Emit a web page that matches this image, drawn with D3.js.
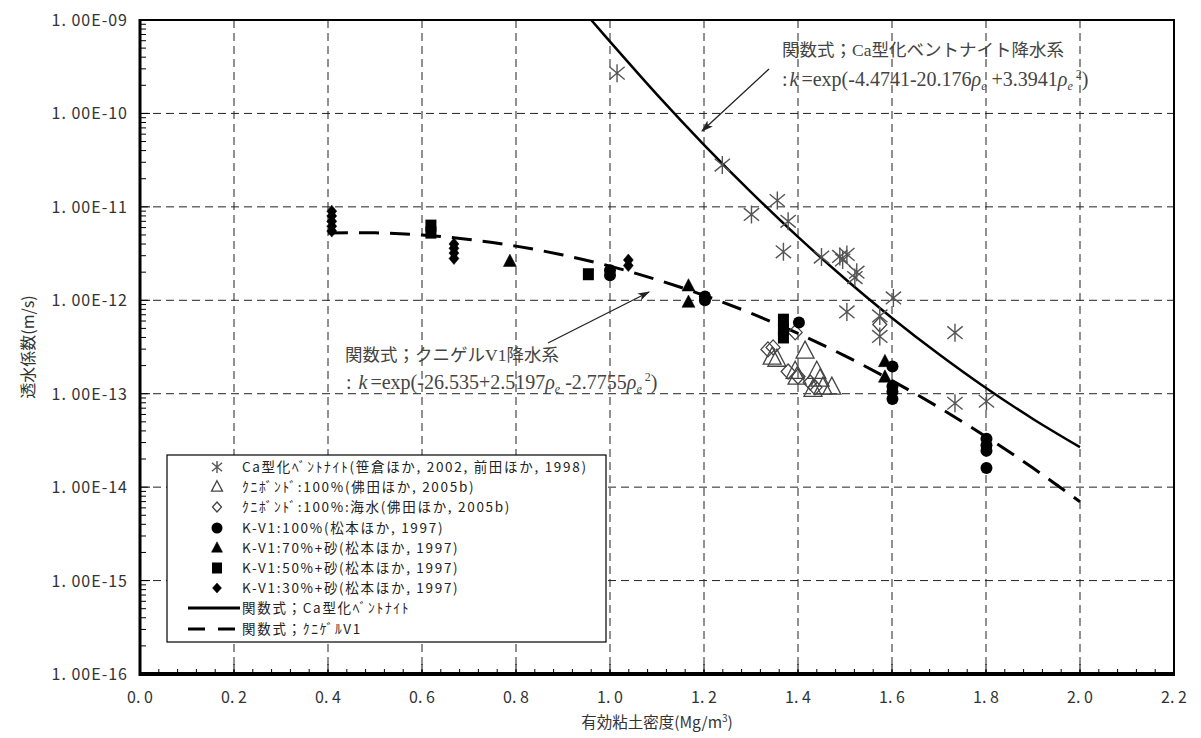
<!DOCTYPE html>
<html>
<head>
<meta charset="utf-8">
<script src="https://cdn.jsdelivr.net/npm/d3@7"></script>
<style>
  body { margin: 0; background: #fff; }
  svg { display: block; }
</style>
</head>
<body>
<svg id="chart" width="1201" height="738"></svg>
<script>
// ---- data ----
const xTicks = [0, 0.2, 0.4, 0.6, 0.8, 1.0, 1.2, 1.4, 1.6, 1.8, 2.0, 2.2];
const yTicks = [1e-9, 1e-10, 1e-11, 1e-12, 1e-13, 1e-14, 1e-15, 1e-16];

// Ca型化ベントナイト (asterisks)
const caX = [1.015, 1.239, 1.301, 1.356, 1.379, 1.369, 1.450, 1.489, 1.504, 1.495, 1.525, 1.521, 1.603, 1.504, 1.574, 1.574, 1.734, 1.734, 1.801];
const caK = [2.7e-10, 2.8e-11, 8.3e-12, 1.17e-11, 7.0e-12, 3.3e-12, 2.9e-12, 2.95e-12, 3.1e-12, 2.7e-12, 2.0e-12, 1.75e-12, 1.06e-12, 7.5e-13, 6.8e-13, 4.1e-13, 4.5e-13, 7.9e-14, 8.3e-14];
// クニボンド 100% (open triangles)
const kbX = [1.345, 1.355, 1.415, 1.394, 1.398, 1.440, 1.447, 1.432, 1.453, 1.472];
const kbK = [2.45e-13, 2.33e-13, 2.84e-13, 1.73e-13, 1.5e-13, 1.73e-13, 1.43e-13, 1.11e-13, 1.17e-13, 1.17e-13];
// クニボンド 100% 海水 (open diamonds)
const ksX = [1.336, 1.347, 1.379, 1.400, 1.426, 1.436, 1.394, 1.574];
const ksK = [2.98e-13, 3.13e-13, 1.73e-13, 1.53e-13, 1.32e-13, 1.17e-13, 4.53e-13, 5.5e-13];
// K-V1 100% (filled circles)
const cX = [1.0, 1.0, 1.202, 1.202, 1.402, 1.601, 1.601, 1.601, 1.601, 1.801, 1.801, 1.801, 1.801];
const cK = [2.1e-12, 1.85e-12, 1.1e-12, 1.0e-12, 5.8e-13, 1.95e-13, 1.2e-13, 1.05e-13, 8.8e-14, 3.3e-14, 2.8e-14, 2.45e-14, 1.6e-14];
// K-V1 70%+砂 (filled triangles)
const tX = [0.787, 1.167, 1.167, 1.585, 1.585];
const tK = [2.6e-12, 1.42e-12, 9.5e-13, 2.2e-13, 1.5e-13];
// K-V1 50%+砂 (filled squares)
const sX = [0.619, 0.619, 0.954, 1.369, 1.369, 1.369];
const sK = [6.3e-12, 5.3e-12, 1.9e-12, 6.2e-13, 4.9e-13, 4.0e-13];
// K-V1 30%+砂 (filled diamonds)
const dX = [0.408, 0.408, 0.408, 0.408, 0.408, 0.668, 0.668, 0.668, 0.668, 1.039, 1.039];
const dK = [9.0e-12, 8.0e-12, 7.0e-12, 6.2e-12, 5.5e-12, 4.0e-12, 3.6e-12, 3.2e-12, 2.8e-12, 2.7e-12, 2.35e-12];

// fitted curves, values
const caCurveX = [0.96, 1.0, 1.1, 1.2, 1.3, 1.4, 1.5, 1.6, 1.7, 1.8, 1.9, 2.0];
const caCurveK = [1.0e-9, 5.87e-10, 1.59e-10, 4.62e-11, 1.44e-11, 4.77e-12, 1.70e-12, 6.47e-13, 2.64e-13, 1.15e-13, 5.37e-14, 2.68e-14];
const kvCurveX = [0.4, 0.5, 0.6, 0.7, 0.8, 0.9, 1.0, 1.1, 1.2, 1.3, 1.4, 1.5, 1.6, 1.7, 1.8, 1.9, 2.0];
const kvCurveK = [5.26e-12, 5.27e-12, 5.0e-12, 4.48e-12, 3.8e-12, 3.05e-12, 2.32e-12, 1.66e-12, 1.13e-12, 7.27e-13, 4.42e-13, 2.54e-13, 1.38e-13, 7.12e-14, 3.47e-14, 1.6e-14, 6.97e-15];

const legendLabels = [
  "Ca型化ﾍﾞﾝﾄﾅｲﾄ(笹倉ほか, 2002, 前田ほか, 1998)",
  "ｸﾆﾎﾞﾝﾄﾞ:100%(佛田ほか, 2005b)",
  "ｸﾆﾎﾞﾝﾄﾞ:100%:海水(佛田ほか, 2005b)",
  "K-V1:100%(松本ほか, 1997)",
  "K-V1:70%+砂(松本ほか, 1997)",
  "K-V1:50%+砂(松本ほか, 1997)",
  "K-V1:30%+砂(松本ほか, 1997)",
  "関数式；Ca型化ﾍﾞﾝﾄﾅｲﾄ",
  "関数式；ｸﾆｹﾞﾙV1"
];

// ---- layout ----
const margin = { top: 20, right: 27, bottom: 64, left: 140 };
const width = 1201, height = 738;
const gothic = "'Noto Sans CJK JP', 'DejaVu Sans', sans-serif";
const serif = "'Liberation Serif', 'Noto Sans CJK JP', serif";

const svg = d3.select("#chart");

const x = d3.scaleLinear().domain([0, 2.2]).range([margin.left, width - margin.right]);
const y = d3.scaleLog().domain([1e-16, 1e-9]).range([height - margin.bottom, margin.top]);

const X0 = x(0), X1 = x(2.2), Y0 = y(1e-16), Y1 = y(1e-9);

svg.append("defs").append("clipPath").attr("id", "plotclip")
  .append("rect").attr("x", X0).attr("y", Y1).attr("width", X1 - X0).attr("height", Y0 - Y1);

// grid
const grid = svg.append("g").attr("stroke", "#222").attr("stroke-width", 1).attr("stroke-dasharray", "8,5");
grid.selectAll(".vg").data(xTicks.slice(1, -1)).join("line")
  .attr("x1", d => x(d)).attr("x2", d => x(d)).attr("y1", Y1).attr("y2", Y0);
grid.selectAll(".hg").data(yTicks.slice(1, -1)).join("line")
  .attr("x1", X0).attr("x2", X1).attr("y1", d => y(d)).attr("y2", d => y(d));

// minor ticks
const minor = svg.append("g").attr("stroke", "#000").attr("stroke-width", 1);
const yMinor = [];
d3.range(-16, -9).forEach(e => d3.range(2, 10).forEach(m => yMinor.push(m * Math.pow(10, e))));
minor.selectAll(".ym").data(yMinor).join("line")
  .attr("x1", X0).attr("x2", X0 + 6).attr("y1", d => y(d)).attr("y2", d => y(d));
minor.selectAll(".yM").data(yTicks).join("line")
  .attr("x1", X0).attr("x2", X0 + 10).attr("y1", d => y(d)).attr("y2", d => y(d));
const xMinor = d3.range(0, 2.2001, 0.04);
minor.selectAll(".xm").data(xMinor).join("line")
  .attr("x1", d => x(d)).attr("x2", d => x(d)).attr("y1", Y0).attr("y2", Y0 - 5);
minor.selectAll(".xM").data(xTicks).join("line")
  .attr("x1", d => x(d)).attr("x2", d => x(d)).attr("y1", Y0).attr("y2", Y0 - 10);

// curves
const line = d3.line().x(d => x(d[0])).y(d => y(d[1])).curve(d3.curveCatmullRom);
const curves = svg.append("g").attr("clip-path", "url(#plotclip)").attr("fill", "none").attr("stroke", "#000");
curves.append("path").datum(d3.zip(caCurveX, caCurveK))
  .attr("d", line).attr("stroke-width", 2.5);
curves.append("path").datum(d3.zip(kvCurveX, kvCurveK))
  .attr("d", line).attr("stroke-width", 3).attr("stroke-dasharray", "20,11");

// symbols
function asterisk(g, cx, cy, r) {
  g.append("path")
    .attr("d", `M${cx},${cy - r}L${cx},${cy + r}` +
      `M${cx - r * 0.85},${cy - r * 0.7}L${cx + r * 0.85},${cy + r * 0.7}` +
      `M${cx - r * 0.85},${cy + r * 0.7}L${cx + r * 0.85},${cy - r * 0.7}`)
    .attr("stroke", "#555").attr("stroke-width", 1.4).attr("fill", "none");
}
function triangle(g, cx, cy, s, filled) {
  const h = s * 0.95;
  g.append("path")
    .attr("d", `M${cx},${cy - h * 0.6}L${cx + s / 2},${cy + h * 0.4}L${cx - s / 2},${cy + h * 0.4}Z`)
    .attr("fill", filled ? "#000" : "none")
    .attr("stroke", filled ? "#000" : "#444").attr("stroke-width", filled ? 0.5 : 1.3);
}
function diamond(g, cx, cy, w, h, filled) {
  g.append("path")
    .attr("d", `M${cx},${cy - h / 2}L${cx + w / 2},${cy}L${cx},${cy + h / 2}L${cx - w / 2},${cy}Z`)
    .attr("fill", filled ? "#000" : "none")
    .attr("stroke", filled ? "#000" : "#444").attr("stroke-width", filled ? 0.5 : 1.3);
}
function square(g, cx, cy, w, h) {
  g.append("rect").attr("x", cx - w / 2).attr("y", cy - h / 2).attr("width", w).attr("height", h).attr("fill", "#000");
}
function circle(g, cx, cy, r) {
  g.append("circle").attr("cx", cx).attr("cy", cy).attr("r", r).attr("fill", "#000");
}

const pts = svg.append("g");
d3.zip(ksX, ksK).forEach(d => diamond(pts, x(d[0]), y(d[1]), 14, 15, false));
d3.zip(kbX, kbK).forEach(d => triangle(pts, x(d[0]), y(d[1]), 18, false));
d3.zip(caX, caK).forEach(d => asterisk(pts, x(d[0]), y(d[1]), 9));
d3.zip(dX, dK).forEach(d => diamond(pts, x(d[0]), y(d[1]), 10, 12, true));
d3.zip(sX, sK).forEach(d => square(pts, x(d[0]), y(d[1]), 11, 12));
d3.zip(tX, tK).forEach(d => triangle(pts, x(d[0]), y(d[1]), 13, true));
d3.zip(cX, cK).forEach(d => circle(pts, x(d[0]), y(d[1]), 6));

// frame
svg.append("rect").attr("x", X0).attr("y", Y1).attr("width", X1 - X0).attr("height", Y0 - Y1)
  .attr("fill", "none").attr("stroke", "#000").attr("stroke-width", 2);
svg.append("line").attr("x1", X0).attr("x2", X0).attr("y1", Y1 - 1).attr("y2", Y0 + 2)
  .attr("stroke", "#000").attr("stroke-width", 3);
svg.append("line").attr("x1", X0).attr("x2", X1 + 1).attr("y1", Y0).attr("y2", Y0)
  .attr("stroke", "#000").attr("stroke-width", 4);

// tick labels
const fmtY = d => "1. 00E-" + String(-Math.round(Math.log10(d))).padStart(2, "0");
svg.append("g").selectAll("text").data(yTicks).join("text")
  .attr("x", X0 - 12).attr("y", d => y(d) + 6)
  .attr("text-anchor", "end").attr("font-family", gothic).attr("font-size", 16)
  .attr("letter-spacing", 1).attr("fill", "#333")
  .text(fmtY);
svg.append("g").selectAll("text").data(xTicks).join("text")
  .attr("x", d => x(d)).attr("y", Y0 + 29)
  .attr("text-anchor", "middle").attr("font-family", gothic).attr("font-size", 16).attr("fill", "#333")
  .text(d => d.toFixed(1).replace(".", ". "));

// axis titles
const xt = svg.append("text").attr("x", (X0 + X1) / 2).attr("y", Y0 + 54)
  .attr("text-anchor", "middle").attr("font-family", gothic).attr("font-size", 15.5).attr("fill", "#333");
xt.append("tspan").text("有効粘土密度(Mg/m");
xt.append("tspan").attr("dy", -6).attr("font-size", 10).text("3");
xt.append("tspan").attr("dy", 6).text(")");
svg.append("text").attr("transform", `translate(34,${(Y0 + Y1) / 2}) rotate(-90)`)
  .attr("text-anchor", "middle").attr("font-family", gothic).attr("font-size", 16).attr("fill", "#333")
  .text("透水係数(m/s)");

// legend
const lg = svg.append("g");
lg.append("rect").attr("x", 167).attr("y", 455).attr("width", 439).attr("height", 187)
  .attr("fill", "#fff").attr("stroke", "#000").attr("stroke-width", 1.2);
const rowY = [467, 487, 507, 528, 548, 568, 588, 608, 629];
const symX = 217;
asterisk(lg, symX, rowY[0], 6);
triangle(lg, symX, rowY[1], 11, false);
diamond(lg, symX, rowY[2], 9, 10, false);
circle(lg, symX, rowY[3], 5.5);
triangle(lg, symX, rowY[4], 11, true);
square(lg, symX, rowY[5], 10, 11);
diamond(lg, symX, rowY[6], 9, 10, true);
lg.append("line").attr("x1", 188).attr("x2", 240).attr("y1", rowY[7]).attr("y2", rowY[7])
  .attr("stroke", "#000").attr("stroke-width", 3);
lg.append("line").attr("x1", 188).attr("x2", 240).attr("y1", rowY[8]).attr("y2", rowY[8])
  .attr("stroke", "#000").attr("stroke-width", 3).attr("stroke-dasharray", "17,13");
lg.selectAll(".lt").data(legendLabels).join("text")
  .attr("x", 242).attr("y", (d, i) => rowY[i] + 5)
  .attr("font-family", gothic).attr("font-size", 13.5).attr("letter-spacing", 1.7).attr("fill", "#222")
  .text(d => d);

// annotations
const defs = svg.select("defs");
defs.append("marker").attr("id", "arr").attr("viewBox", "0 0 12 8").attr("refX", 11).attr("refY", 4)
  .attr("markerWidth", 12).attr("markerHeight", 8).attr("markerUnits", "userSpaceOnUse").attr("orient", "auto")
  .append("path").attr("d", "M0,0L12,4L0,8L3,4Z").attr("fill", "#222");

svg.append("line").attr("x1", 769).attr("y1", 69).attr("x2", 702).attr("y2", 131)
  .attr("stroke", "#222").attr("stroke-width", 1.3).attr("marker-end", "url(#arr)");
svg.append("line").attr("x1", 548).attr("y1", 343).attr("x2", 649).attr("y2", 292)
  .attr("stroke", "#222").attr("stroke-width", 1.3).attr("marker-end", "url(#arr)");

function formula(xp, yp, pre, a, b) {
  const t = svg.append("text").attr("x", xp).attr("y", yp)
    .attr("font-family", serif).attr("font-size", 20).attr("fill", "#444");
  t.append("tspan").text(pre);
  t.append("tspan").attr("font-style", "italic").attr("dx", 2).text("k");
  t.append("tspan").attr("dx", 3).text("=exp(" + a);
  t.append("tspan").attr("font-style", "italic").text("ρ");
  t.append("tspan").attr("dy", 4).attr("font-size", 12).attr("font-style", "italic").text("e");
  t.append("tspan").attr("dy", -4).text(" " + b);
  t.append("tspan").attr("font-style", "italic").text("ρ");
  t.append("tspan").attr("dy", 4).attr("font-size", 12).attr("font-style", "italic").text("e");
  t.append("tspan").attr("dy", -12).attr("font-size", 12).text(" 2");
  t.append("tspan").attr("dy", 8).text(")");
}
svg.append("text").attr("x", 782).attr("y", 56).attr("font-family", serif).attr("font-size", 17.5).attr("fill", "#444")
  .text("関数式；Ca型化ベントナイト降水系");
formula(782, 86, ":", "-4.4741-20.176", "+3.3941");
svg.append("text").attr("x", 345).attr("y", 361).attr("font-family", serif).attr("font-size", 17.5).attr("fill", "#444")
  .text("関数式；クニゲルV1降水系");
formula(346, 389, " : ", "-26.535+2.5197", "-2.7755");
</script>
</body>
</html>
